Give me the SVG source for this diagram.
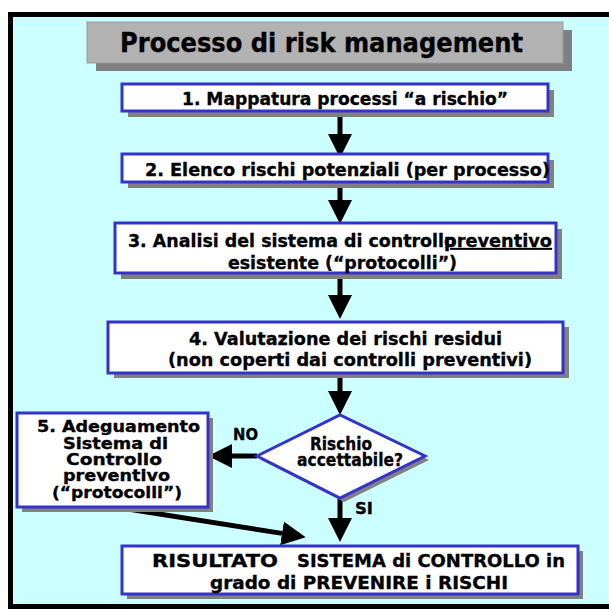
<svg xmlns="http://www.w3.org/2000/svg" width="609" height="609" viewBox="0 0 609 609">
  <style>
    .t { font-family: "DejaVu Sans", "Liberation Sans", sans-serif; font-weight: bold; fill: #000; stroke: #000; stroke-width: 0.35; }
    .box { fill: #ffffff; stroke: #3333cc; stroke-width: 3; }
    .shd { fill: #808080; }
    .ln { stroke: #000; stroke-width: 5; fill: none; }
  </style>
  <defs>
    <marker id="arr" markerUnits="userSpaceOnUse" markerWidth="24" markerHeight="24" viewBox="0 0 24 24" refX="0" refY="12" orient="auto">
      <path d="M0,0 L24,12 L0,24 z" fill="#000"/>
    </marker>
  </defs>

  <!-- frame -->
  <rect x="10.5" y="14.5" width="620" height="592" fill="#ccffff" stroke="#000" stroke-width="5"/>

  <g id="title">
    <rect class="shd" x="96" y="30" width="476" height="41"/>
    <rect x="87" y="22" width="476" height="41" fill="#b2b2b2" stroke="#999999" stroke-width="1"/>
    <text class="t" x="120" y="52" font-size="26" textLength="403" lengthAdjust="spacingAndGlyphs">Processo di risk management</text>
  </g>

  <g id="connectors">
    <line class="ln" x1="340" y1="111" x2="340" y2="134" marker-end="url(#arr)"/>
    <line class="ln" x1="340" y1="182" x2="340" y2="200" marker-end="url(#arr)"/>
    <line class="ln" x1="340" y1="273" x2="340" y2="295" marker-end="url(#arr)"/>
    <line class="ln" x1="340" y1="373" x2="340" y2="391" marker-end="url(#arr)"/>
    <line class="ln" x1="257" y1="456" x2="232" y2="456" marker-end="url(#arr)"/>
    <line class="ln" x1="340" y1="498" x2="340" y2="518" marker-end="url(#arr)"/>
    <line class="ln" x1="115" y1="507" x2="282" y2="533.4" stroke-width="4" marker-end="url(#arr)"/>
    <text class="t" x="233" y="440" font-size="16" textLength="25" lengthAdjust="spacingAndGlyphs">NO</text>
    <text class="t" x="355" y="514" font-size="16" textLength="18" lengthAdjust="spacingAndGlyphs">SI</text>
  </g>

  <g id="step1">
    <rect class="shd" x="128" y="90" width="426" height="27"/>
    <rect class="box" x="122" y="84" width="426" height="27"/>
    <text class="t" x="182" y="105" font-size="18" textLength="326" lengthAdjust="spacingAndGlyphs">1. Mappatura processi “a rischio”</text>
  </g>

  <g id="step2">
    <rect class="shd" x="128" y="160" width="426" height="28"/>
    <rect class="box" x="122" y="154" width="426" height="28"/>
    <text class="t" x="145" y="176" font-size="18" textLength="405" lengthAdjust="spacingAndGlyphs">2. Elenco rischi potenziali (per processo)</text>
  </g>

  <g id="step3">
    <rect class="shd" x="121" y="229" width="441" height="50"/>
    <rect class="box" x="115" y="223" width="441" height="50"/>
    <text class="t" x="128" y="247" font-size="18" textLength="328" lengthAdjust="spacingAndGlyphs">3. Analisi del sistema di controllo</text>
    <text class="t" x="444" y="247" font-size="18" textLength="108" lengthAdjust="spacingAndGlyphs" text-decoration="underline">preventivo</text>
    <text class="t" x="228" y="269" font-size="18" textLength="229" lengthAdjust="spacingAndGlyphs">esistente (“protocolli”)</text>
  </g>

  <g id="step4">
    <rect class="shd" x="114" y="327" width="455" height="51"/>
    <rect class="box" x="108" y="322" width="455" height="51"/>
    <text class="t" x="189" y="345" font-size="18" textLength="313" lengthAdjust="spacingAndGlyphs">4. Valutazione dei rischi residui</text>
    <text class="t" x="168" y="366" font-size="18" textLength="364" lengthAdjust="spacingAndGlyphs">(non coperti dai controlli preventivi)</text>
  </g>

  <g id="decision">
    <polygon class="shd" points="261,460 344,419 429,460 344,502"/>
    <polygon class="box" points="257,456 340,415 425,456 340,498"/>
    <text class="t" x="310" y="450" font-size="17" textLength="62" lengthAdjust="spacingAndGlyphs">Rischio</text>
    <text class="t" x="297" y="466" font-size="17" textLength="106" lengthAdjust="spacingAndGlyphs">accettabile?</text>
  </g>

  <g id="step5">
    <rect class="shd" x="22" y="418" width="191" height="94"/>
    <rect class="box" x="17" y="413" width="191" height="94"/>
    <text class="t" x="37" y="432" font-size="16" textLength="163" lengthAdjust="spacingAndGlyphs">5. Adeguamento</text>
    <text class="t" x="63" y="449" font-size="16" textLength="105" lengthAdjust="spacingAndGlyphs">Sistema di</text>
    <text class="t" x="66" y="465" font-size="16" textLength="96" lengthAdjust="spacingAndGlyphs">Controllo</text>
    <text class="t" x="63" y="481" font-size="16" textLength="107" lengthAdjust="spacingAndGlyphs">preventivo</text>
    <text class="t" x="52" y="498" font-size="16" textLength="130" lengthAdjust="spacingAndGlyphs">(“protocolli”)</text>
  </g>

  <g id="result">
    <rect class="shd" x="127" y="551" width="456" height="48"/>
    <rect class="box" x="122" y="546" width="456" height="48"/>
    <text class="t" x="152" y="567" font-size="17" textLength="126" lengthAdjust="spacingAndGlyphs" stroke-width="0.9">RISULTATO</text>
    <text class="t" x="297" y="567" font-size="18" textLength="268" lengthAdjust="spacingAndGlyphs">SISTEMA di CONTROLLO in</text>
    <text class="t" x="210" y="589" font-size="18" textLength="298" lengthAdjust="spacingAndGlyphs">grado di PREVENIRE i RISCHI</text>
  </g>
</svg>
